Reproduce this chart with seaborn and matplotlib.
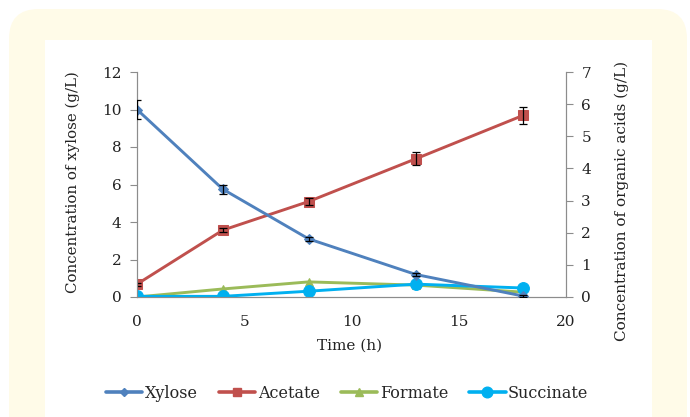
import matplotlib
matplotlib.use("Agg")
import matplotlib.pyplot as plt
from matplotlib.patches import FancyBboxPatch, Rectangle
from matplotlib.lines import Line2D
import seaborn as sns
import pandas as pd
import numpy as np

# ---- data ----
time_h = [0, 4, 8, 13, 18]
xylose = [10.0, 5.75, 3.1, 1.2, 0.05]
xylose_err = [0.5, 0.25, 0.12, 0.08, 0.05]
acetate = [0.4, 2.08, 2.97, 4.3, 5.65]
acetate_err = [0.05, 0.06, 0.1, 0.2, 0.27]
formate = [0.0, 0.25, 0.47, 0.37, 0.15]
succinate = [0.02, 0.02, 0.18, 0.4, 0.28]

series_names = ["Xylose", "Acetate", "Formate", "Succinate"]
colors = {"Xylose": "#4F81BD", "Acetate": "#C0504D",
          "Formate": "#9BBB59", "Succinate": "#00B0F0"}
markers = {"Xylose": "D", "Acetate": "s", "Formate": "^", "Succinate": "o"}
msizes = {"Xylose": 5, "Acetate": 7, "Formate": 6, "Succinate": 8.5}

sns.set_style("white")
plt.rcParams["font.family"] = ["DejaVu Serif"]

fig = plt.figure(figsize=(6.9, 4.17), dpi=100)
fig.patch.set_facecolor("white")

# background panels
bg = FancyBboxPatch((9 / 690, -0.2), (687 - 9) / 690, (1 - 9 / 417) + 0.2,
                    boxstyle="round,pad=0,rounding_size=0.043",
                    transform=fig.transFigure, facecolor="#FFFBE8",
                    edgecolor="none", zorder=-10, mutation_aspect=690 / 417)
fig.patches.append(bg)
inner = Rectangle((45 / 690, 0.0), (652 - 45) / 690, 1 - 40 / 417,
                  transform=fig.transFigure, facecolor="white",
                  edgecolor="none", zorder=-9)
fig.patches.append(inner)

ax = fig.add_axes([137 / 690, 1 - 297 / 417, (566 - 137) / 690, (297 - 72) / 417])
ax.set_facecolor("none")
ax2 = ax.twinx()

df_x = pd.DataFrame({"Time": time_h, "Value": xylose})
df_acids = pd.DataFrame({
    "Time": time_h * 3,
    "Value": acetate + formate + succinate,
    "Series": ["Acetate"] * 5 + ["Formate"] * 5 + ["Succinate"] * 5,
})

lw = 2.1
# acids on right axis
for name in ["Formate", "Succinate", "Acetate"]:
    d = df_acids[df_acids["Series"] == name]
    sns.lineplot(data=d, x="Time", y="Value", ax=ax2, color=colors[name],
                 marker=markers[name], markersize=msizes[name],
                 markeredgecolor=colors[name], linewidth=lw, legend=False,
                 zorder=3)
ax2.errorbar(time_h, acetate, yerr=acetate_err, fmt="none", ecolor="black",
             elinewidth=0.9, capsize=3, capthick=0.9, zorder=4)

# xylose on left axis
sns.lineplot(data=df_x, x="Time", y="Value", ax=ax, color=colors["Xylose"],
             marker=markers["Xylose"], markersize=msizes["Xylose"],
             markeredgecolor=colors["Xylose"], linewidth=lw, legend=False,
             zorder=3)
ax.errorbar(time_h, xylose, yerr=xylose_err, fmt="none", ecolor="black",
            elinewidth=0.9, capsize=3, capthick=0.9, zorder=4)
ax.set_zorder(ax2.get_zorder() + 1)

ax.set_xlim(0, 20)
ax.set_ylim(0, 12)
ax2.set_ylim(0, 7)
ax.set_xticks([0, 5, 10, 15, 20])
ax.set_yticks([0, 2, 4, 6, 8, 10, 12])
ax2.set_yticks(range(0, 8))

spine_c = "#8C8C8C"
for a in (ax, ax2):
    for s in a.spines.values():
        s.set_color(spine_c)
        s.set_linewidth(0.8)
    a.spines["top"].set_visible(False)
    a.tick_params(colors=spine_c, labelcolor="#222222", labelsize=11,
                  length=5, width=0.8, direction="out")
ax.tick_params(axis="x", pad=8)
ax.tick_params(axis="y", pad=6)
ax2.tick_params(axis="y", pad=6)

ax.set_xlabel("Time (h)", fontsize=11, color="#222222")
ax.xaxis.set_label_coords((350 - 137) / 429, -(339 - 297) / 225)
ax.set_ylabel("Concentration of xylose (g/L)", fontsize=10.8, color="#222222")
ax.yaxis.set_label_coords(-(137 - 80) / 429, (297 - 182) / 225)
ax2.set_ylabel("Concentration of organic acids (g/L)", fontsize=11,
               color="#222222", rotation=90, va="center")
ax2.yaxis.set_label_coords((622 - 137) / 429, (297 - 201) / 225)

handles = [Line2D([0], [0], color=colors[n], marker=markers[n], linewidth=2.6,
                  markersize=msizes[n] * 0.9, markeredgecolor=colors[n])
           for n in series_names]
fig.legend(handles, series_names, loc="center", ncol=4,
           bbox_to_anchor=(347 / 690, 1 - 393 / 417), frameon=False,
           fontsize=11.5, handlelength=2.3, handletextpad=0.15,
           columnspacing=1.3)

fig.savefig("out.png", dpi=100, facecolor=fig.get_facecolor())
